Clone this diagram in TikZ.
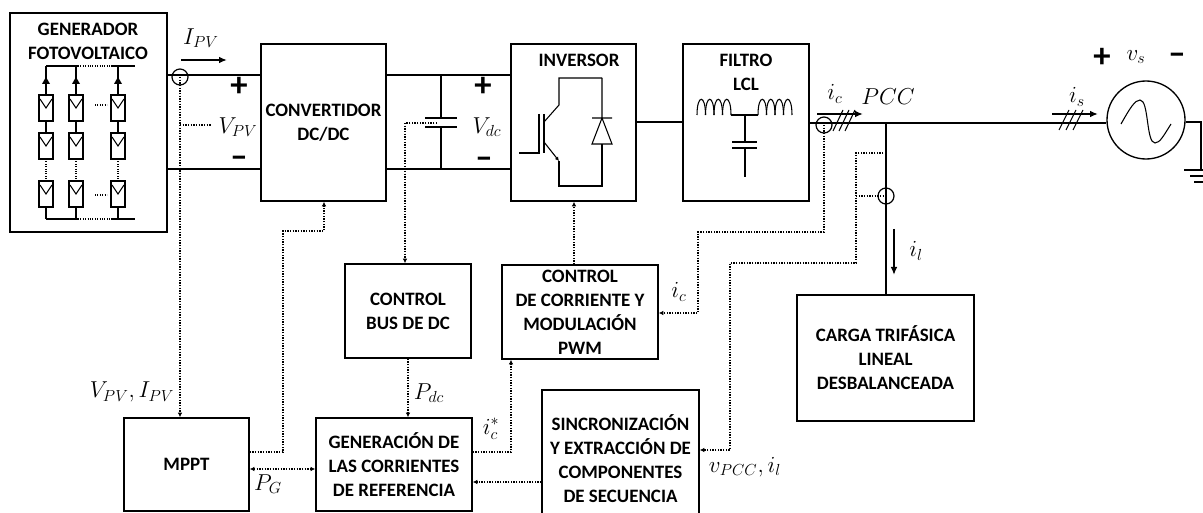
\documentclass[tikz,border=0pt]{standalone}
\usepackage{amsmath}
\usepackage{fontspec}
\setmainfont{Carlito}
\usetikzlibrary{arrows.meta}
\begin{document}
\begin{tikzpicture}[x=0.75pt,y=-0.75pt,font=\bfseries\fontsize{14.2}{18}\selectfont,
box/.style 2 args={draw, line width=1.1pt, inner sep=0pt, align=center, minimum width=#1*0.75pt, minimum height=#2*0.75pt},
title/.style={inner sep=0pt, align=center},
wire/.style={line width=1pt},
thin wire/.style={line width=0.8pt},
sig/.style={densely dotted, line width=1pt},
tip/.style={-{Latex[length=3.5pt,width=3.5pt]}},
both tip/.style={{Latex[length=3.5pt,width=3.5pt]}-{Latex[length=3.5pt,width=3.5pt]}},
sensor/.style={circle, draw, line width=0.9pt, inner sep=0pt, minimum size=12pt},
mag/.style={inner sep=0pt, font=\fontsize{18}{18}\selectfont},
sign/.style={inner sep=0pt, font=\bfseries\fontsize{26}{26}\selectfont},
flow/.style={line width=1.3pt, -{Latex[length=6pt,width=5pt]}}]
\useasboundingbox (0,0) rectangle (1203,513);
\newcommand{\pvCell}[2]{\draw[line width=1.5pt] (#1-7,#2) rectangle (#1+7,#2+26);\draw[thin wire] (#1-6,#2+4) -- (#1,#2+13) -- (#1+6,#2+4);}
\newcommand{\coilRun}[1]{\foreach \k in {0,1,2,3}\draw[thin wire] (#1+\k*8.5,115) .. controls (#1+\k*8.5,94) and (#1+\k*8.5+8.5,94) .. (#1+\k*8.5+8.5,115);}
\node[box={157}{219}] (gen) at (88.5,122.5) {};
\node[box={125}{157}] (conv) at (323.5,122.5) {CONVERTIDOR\\DC/DC};
\node[box={125}{157}] (inv) at (573.5,122.5) {};
\node[box={126}{157}] (filtro) at (746,122.5) {};
\node[box={126}{94}] (ctrlBus) at (408,311) {CONTROL\\BUS DE DC};
\node[box={156}{94}] (ctrlCorr) at (580,312) {CONTROL\\DE CORRIENTE Y\\MODULACIÓN\\PWM};
\node[box={125}{93}] (mppt) at (186.5,464.5) {MPPT};
\node[box={156}{93}] (genCorr) at (394,464.5) {GENERACIÓN DE\\LAS CORRIENTES\\DE REFERENCIA};
\node[box={157}{137}] (sinc) at (620.5,458.5) {SINCRONIZACIÓN\\Y EXTRACCIÓN DE\\COMPONENTES\\DE SECUENCIA};
\node[box={177}{126}] (carga) at (885.5,358) {CARGA TRIFÁSICA\\LINEAL\\DESBALANCEADA};
\node[title] (genTitle) at (88,41) {GENERADOR\\FOTOVOLTAICO};
\node[title] (invTitle) at (579,60) {INVERSOR};
\node[title] (filtroTitle) at (746,72) {FILTRO\\LCL};
\node[sensor] (sPV) at (180,77) {};
\node[sensor] (sConv) at (824,125) {};
\node[sensor] (sLoad) at (886,196) {};
\node[circle, draw, line width=1pt, inner sep=0pt, minimum size=58.5pt] (red) at (1146,120) {};
\coordinate (busPos) at (0,75);
\coordinate (busNeg) at (0,169);
\coordinate (ac) at (0,123);
\coordinate (pcc) at (886,123);
\coordinate (capTop) at (441,118);
\coordinate (capBot) at (441,127);
\coordinate (gnd) at (1201,170);
\draw[wire] (gen.east |- busPos) -- (conv.west |- busPos);
\draw[wire] (gen.east |- busNeg) -- (conv.west |- busNeg);
\draw[wire] (conv.east |- busPos) -- (inv.west |- busPos);
\draw[wire] (conv.east |- busNeg) -- (inv.west |- busNeg);
\draw[wire] (capTop) -- (capTop |- busPos) (capBot) -- (capBot |- busNeg);
\draw[wire] (425,118) -- (457,118) (425,127) -- (457,127);
\draw[wire] (inv.east |- 0,122) -- (filtro.west |- 0,122);
\draw[wire] (filtro.east |- ac) -- (red.west |- ac);
\draw[wire] (pcc) -- (carga.north -| pcc);
\draw[wire] (red.east |- 0,122) -| (gnd);
\draw[wire] (1184,170) -- (1203,170) (1190,176) -- (1203,176) (1194,182) -- (1203,182);
\draw[thin wire] (1121,124) .. controls (1130,108) and (1135,100) .. (1140,100) .. controls (1149,100) and (1146,143) .. (1155,143) .. controls (1160,143) and (1164,135) .. (1171,124);
\draw[sig, tip] (sPV.center) -- (sPV.center |- mppt.north);
\draw[sig] (180,125) -- (212,125);
\draw[sig, tip] (mppt.east |- 0,452) -- (283,452) -- (283,231) -- (324,231) -- (conv.south -| 324,0);
\draw[sig, tip] (437,123) -- (405,123) -- (ctrlBus.north -| 405,0);
\draw[sig, tip] (ctrlBus.south) -- (genCorr.north -| ctrlBus.south);
\draw[sig, tip] (ctrlCorr.north -| 574,0) -- (inv.south -| 574,0);
\draw[sig, tip] (genCorr.east |- 0,452) -- (511,452) -- (ctrlCorr.south -| 511,0);
\draw[sig, tip] (sinc.west |- 0,482) -- (genCorr.east |- 0,482);
\draw[sig, both tip] (mppt.east |- 0,469) -- (genCorr.west |- 0,469);
\draw[sig, tip] (sConv.center) -- (824,232) -- (698,232) -- (698,313) -- (ctrlCorr.east |- 0,313);
\draw[sig, tip] (pcc |- 0,153) -- (856,153) -- (856,263) -- (730,263) -- (730,450) -- (sinc.east |- 0,450);
\draw[sig] (856,196) -- (sLoad.center);
\draw[flow] (181,60) -- (227,60);
\draw[flow] (817,114) -- (863,114);
\draw[flow] (1052,114) -- (1098,114);
\draw[flow] (894,229) -- (894,275);
\foreach \s in {0,6,12}\draw[thin wire] (833+\s,131) -- (843+\s,110);
\foreach \s in {0,7,14}\draw[thin wire] (1059+\s,130) -- (1069+\s,110);
\node[mag] (lIpv) at (201,38) {$I_{PV}$};
\node[mag] (lVpv) at (238,127) {$V_{PV}$};
\node[mag] (lVdc) at (487,127) {$V_{dc}$};
\node[mag] (lIc) at (835,94) {$i_c$};
\node[mag] (lPcc) at (888,97) {$PCC$};
\node[mag] (lIs) at (1077,97) {$i_s$};
\node[mag] (lVs) at (1136,57) {$v_s$};
\node[mag] (lIl) at (916,251) {$i_l$};
\node[mag] (lIcb) at (679,292) {$i_c$};
\node[mag] (lVi) at (745,467) {$v_{PCC},i_l$};
\node[mag] (lPdc) at (429,393) {$P_{dc}$};
\node[mag] (lIref) at (491,429) {$i_c^*$};
\node[mag] (lPg) at (268,484) {$P_G$};
\node[mag] (lVI) at (132,392) {$V_{PV},I_{PV}$};
\foreach \p/\t [count=\i] in {(239,87)/+,(239,162)/--,(483,87)/+,(484,163)/--,(1102,58)/+,(1177,59)/--}\node[sign] (sign\i) at \p {\t};
\draw[thin wire] (602,78) -- (559,78) -- (559,105) -- (544,122);
\draw[thin wire, -{Latex[length=3pt,width=3pt]}] (544,142) -- (559,161);
\draw[thin wire] (559,161) -- (559,186) -- (602,186) -- (602,144);
\draw[thin wire] (544,114) -- (544,153) (539,114) -- (539,153) -- (519,153);
\draw[thin wire] (602,78) -- (602,118) (592,118) -- (612,118) (602,118) -- (592,144) -- (612,144) -- cycle;
\coilRun{697}
\coilRun{758}
\draw[thin wire] (731,115) -- (758,115) (745,115) -- (745,142) (732,142) -- (757,142) (732,148) -- (757,148) (745,148) -- (745,177);
\foreach \x in {46,76,118}{\foreach \y in {95,133,181}{\pvCell{\x}{\y}}\draw[thin wire] (\x,66) -- (\x,95) (\x,121) -- (\x,133);\draw[thin wire, densely dotted] (\x,159) -- (\x,181);\draw[thin wire] (\x,207) -- (\x,219);\fill (\x,77) -- (\x+4,84) -- (\x-4,84) -- cycle;}
\draw[thin wire] (46,66) -- (78,66) (111,66) -- (135,66) (46,219) -- (78,219) (111,219) -- (135,219);
\draw[thin wire, densely dotted] (78,66) -- (111,66) (78,219) -- (111,219) (95,105) -- (107,105) (95,195) -- (107,195);
\end{tikzpicture}
\end{document}
